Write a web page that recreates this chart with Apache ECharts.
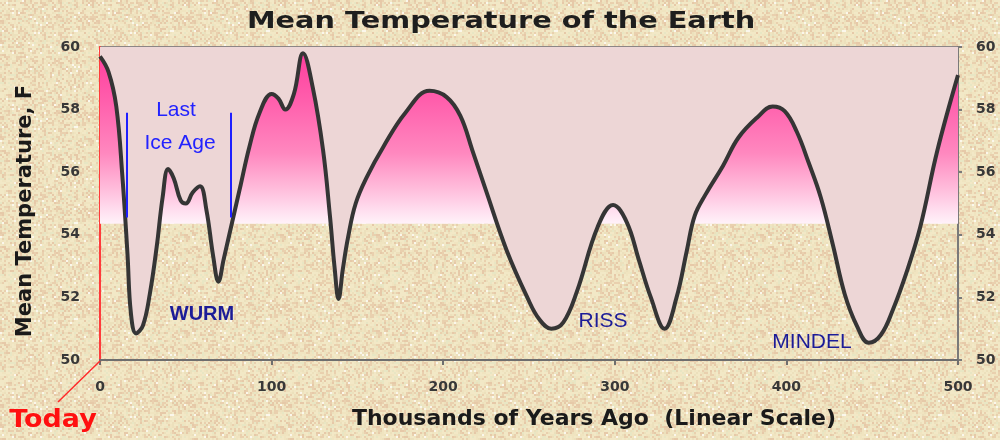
<!DOCTYPE html>
<html>
<head>
<meta charset="utf-8">
<title>Mean Temperature of the Earth</title>
<script src="https://cdn.jsdelivr.net/npm/echarts@6/dist/echarts.min.js"></script>
<style>
  html, body { margin: 0; padding: 0; }
  #chart { width: 1000px; height: 440px; }
</style>
</head>
<body>
<div id="chart"></div>
<script>
// Thousands of years before present
const yearsAgo = [
  0, 5, 9.5, 13, 16, 18, 21, 25, 29, 33, 36.5, 39.7, 43, 47, 50,
  54, 58.3, 62, 66, 69, 72, 77, 82, 87, 93, 100, 104, 108, 113, 118.3, 124, 130,
  134, 136.8, 139, 141.5, 144.5, 149, 156, 165, 178, 192, 202, 210, 217, 225, 237, 249,
  256, 263, 270, 278, 290, 299, 307, 314, 321, 329, 336, 342, 346.5, 353, 363,
  372, 383, 392, 399, 406, 413, 420, 427, 434, 441, 448, 455, 462, 470, 478, 488, 500
];
// Mean temperature, degrees F
const meanTempF = [
  59.7, 59.2, 58.1, 55.9, 53.4, 51.5, 50.85, 51.1, 52.1, 53.6, 55.2,
  56.1, 55.8, 55.1, 55.0, 55.35, 55.55, 54.8, 53.3, 52.5, 53.2, 54.4, 55.6, 56.8,
  57.9, 58.5, 58.35, 58.0, 58.5, 59.8, 58.7, 56.7, 54.6, 52.9, 51.95, 52.9, 53.9,
  55.0, 55.9, 56.8, 57.9, 58.6, 58.4, 57.8, 56.7, 55.4, 53.5, 52.0, 51.3, 51.0,
  51.2, 52.2, 54.25, 54.95, 54.4, 53.2, 52.0, 51.0, 52.0, 53.5, 54.6, 55.3, 56.2,
  57.1, 57.75, 58.1, 57.95, 57.3, 56.3, 55.2, 53.7, 52.1, 51.1, 50.55, 50.8, 51.6, 52.8,
  54.25, 56.7, 59.1
];

// Axis ranges and tick steps
const xRange = [0, 500];
const xTickStep = 100;
const yRange = [50, 60];
const yTickStep = 2;

// Warm-band floor and the last ice age span
const warmBandFloor = 54.35;
const iceAgeSpan = [15.7, 76.3];
const iceAgeBarTemps = [57.9, 54.55];

// Glacial period labels
const glacialNames = ['WURM', 'RISS', 'MINDEL'];

const FONT = '"DejaVu Sans", Verdana, sans-serif';
const ARIAL = '"Liberation Sans", Arial, sans-serif';

// Mottled beige paper backdrop, built from an integer hash so it is the same each time
(function paintBackdrop() {
  const size = 96, cell = 2;
  const cv = document.createElement('canvas');
  cv.width = size; cv.height = size;
  const ctx = cv.getContext('2d');
  const palette = ['#f2e8c6', '#f0e4c0', '#e9d0ae', '#e6c9a8', '#ece0bc', '#e8e6c4', '#fbf7ec'];
  const weights = [30, 18, 18, 10, 14, 8, 2];
  const total = weights.reduce((a, b) => a + b, 0);
  function hash(x, y) {
    let h = (x * 374761393 + y * 668265263) | 0;
    h = (h ^ (h >>> 13)) * 1274126177 | 0;
    h = h ^ (h >>> 16);
    return (h >>> 0) % total;
  }
  for (let y = 0; y < size; y += cell) {
    for (let x = 0; x < size; x += cell) {
      let v = hash(x, y), i = 0;
      while (v >= weights[i]) { v -= weights[i]; i++; }
      ctx.fillStyle = palette[i];
      ctx.fillRect(x, y, cell, cell);
    }
  }
  document.getElementById('chart').style.background = 'url(' + cv.toDataURL() + ') repeat #efe2bf';
})();

const chart = echarts.init(document.getElementById('chart'), null, { renderer: 'canvas' });

const curve = yearsAgo.map((x, i) => [x, meanTempF[i]]);

const axisLabelStyle = {
  fontFamily: FONT, fontWeight: 'bold', fontSize: 14, color: '#383838'
};

chart.setOption({
  backgroundColor: 'transparent',
  animation: false,
  grid: {
    left: 100, right: 42, top: 47, bottom: 80,
    show: true, borderColor: '#8c8686', borderWidth: 2, backgroundColor: 'transparent'
  },
  xAxis: {
    type: 'value', min: xRange[0], max: xRange[1], interval: xTickStep,
    axisLine: { lineStyle: { color: '#6e6e6e', width: 2 } },
    axisTick: { show: true, length: 5, lineStyle: { color: '#6e6e6e', width: 2 } },
    splitLine: { show: false },
    axisLabel: Object.assign({ margin: 20 }, axisLabelStyle),
    name: 'Thousands of Years Ago  (Linear Scale)',
    nameLocation: 'middle',
    nameGap: 48,
    nameTextStyle: {
      fontFamily: FONT, fontWeight: 'bold', fontSize: 22, color: '#1a1a1a',
      padding: [0, 0, 0, 130]
    }
  },
  yAxis: [
    {
      type: 'value', position: 'left', min: yRange[0], max: yRange[1], interval: yTickStep,
      axisLine: { show: true, lineStyle: { color: '#ff3b3b', width: 2 } },
      axisTick: { show: false },
      splitLine: { show: false },
      axisLabel: Object.assign({ margin: 20 }, axisLabelStyle),
      name: 'Mean Temperature, F',
      nameLocation: 'middle',
      nameGap: 64,
      nameRotate: 90,
      nameTextStyle: {
        fontFamily: FONT, fontWeight: 'bold', fontSize: 21, color: '#1a1a1a',
        padding: [0, 15, 0, 0]
      }
    },
    {
      type: 'value', position: 'right', min: yRange[0], max: yRange[1], interval: yTickStep,
      axisLine: { show: true, lineStyle: { color: '#7a7a7a', width: 2 } },
      axisTick: { show: true, length: 4, lineStyle: { color: '#7a7a7a', width: 2 } },
      splitLine: { show: false },
      axisLabel: Object.assign({ margin: 18 }, axisLabelStyle)
    }
  ],
  series: [
    {
      // Warm band: shaded from the band floor up to the top of the scale
      type: 'line',
      data: [],
      z: 1,
      silent: true,
      markArea: {
        silent: true,
        itemStyle: {
          color: new echarts.graphic.LinearGradient(0, 0, 0, 1, [
            { offset: 0, color: '#ff3a9c' },
            { offset: 0.3, color: '#ff5eac' },
            { offset: 0.6, color: '#ff88bf' },
            { offset: 0.8, color: '#ffbcdb' },
            { offset: 0.93, color: '#ffe0f0' },
            { offset: 1, color: '#fff2f9' }
          ])
        },
        data: [[
          { xAxis: xRange[0], yAxis: yRange[1] },
          { xAxis: xRange[1], yAxis: warmBandFloor }
        ]]
      }
    },
    {
      name: 'Mean temperature',
      type: 'line',
      data: curve,
      z: 3,
      smooth: 0.4,
      symbol: 'none',
      lineStyle: { color: '#353535', width: 4, join: 'round' },
      areaStyle: { origin: 'end', color: '#edd6d6', opacity: 1 },
      markLine: {
        silent: true,
        symbol: 'none',
        label: { show: false },
        lineStyle: { color: '#1f1fff', width: 2, type: 'solid' },
        data: iceAgeSpan.map(x => [
          { coord: [x, iceAgeBarTemps[0]] },
          { coord: [x, iceAgeBarTemps[1]] }
        ])
      }
    }
  ],
  graphic: [
    { type: 'text', x: 501, y: 22, scaleX: 1.25, style: { text: 'Mean Temperature of the Earth', fontFamily: FONT, fontWeight: 'bold', fontSize: 23, fill: '#1e1e1e', align: 'center', verticalAlign: 'middle' }, z: 10 },
    { type: 'line', shape: { x1: 100, y1: 361, x2: 58, y2: 402 }, style: { stroke: '#ff2a2a', lineWidth: 1.5 }, z: 10 },
    { type: 'text', x: 53, y: 421, scaleX: 1.12, style: { text: 'Today', fontFamily: FONT, fontWeight: 'bold', fontSize: 24, fill: '#ff1010', align: 'center', verticalAlign: 'middle' }, z: 10 },
    { type: 'text', x: 176, y: 110, style: { text: 'Last', fontFamily: ARIAL, fontSize: 21, fill: '#2222ff', align: 'center', verticalAlign: 'middle' }, z: 10 },
    { type: 'text', x: 180, y: 143, style: { text: 'Ice Age', fontFamily: ARIAL, fontSize: 21, fill: '#2222ff', align: 'center', verticalAlign: 'middle' }, z: 10 },
    { type: 'text', x: 202, y: 314, style: { text: glacialNames[0], fontFamily: ARIAL, fontWeight: 'bold', fontSize: 20, fill: '#1c1c98', align: 'center', verticalAlign: 'middle' }, z: 10 },
    { type: 'text', x: 603, y: 321, style: { text: glacialNames[1], fontFamily: ARIAL, fontSize: 21, fill: '#1c1c98', align: 'center', verticalAlign: 'middle' }, z: 10 },
    { type: 'text', x: 812, y: 342, style: { text: glacialNames[2], fontFamily: ARIAL, fontSize: 21, fill: '#1c1c98', align: 'center', verticalAlign: 'middle' }, z: 10 }
  ]
});
</script>
</body>
</html>
